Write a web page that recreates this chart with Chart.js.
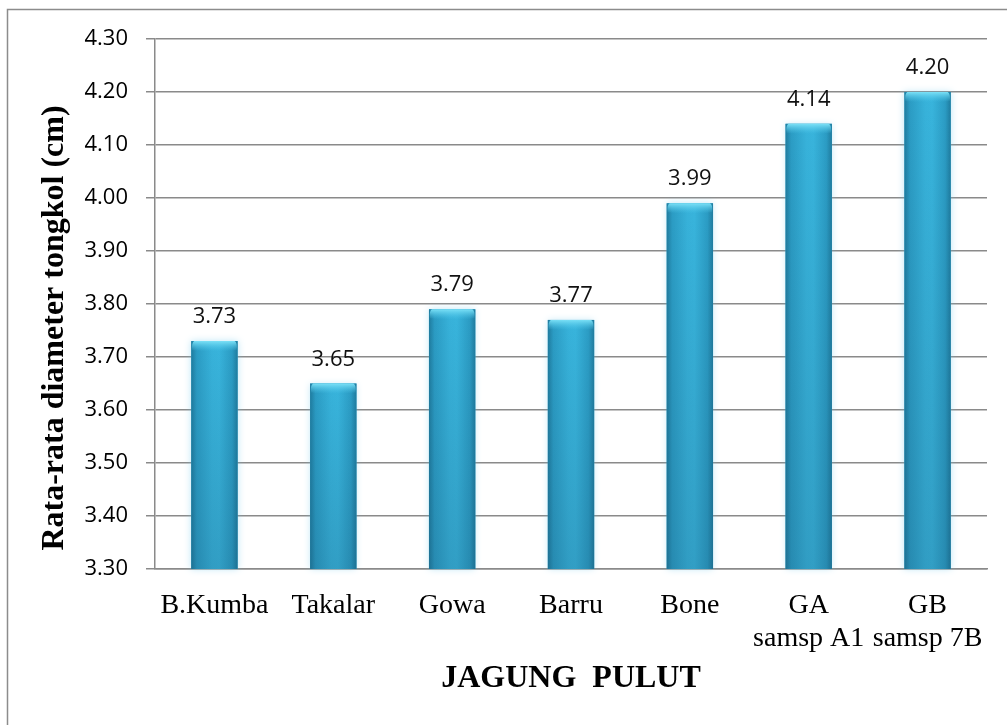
<!DOCTYPE html>
<html>
<head>
<meta charset="utf-8">
<script src="https://cdn.jsdelivr.net/npm/chart.js@4.4.1/dist/chart.umd.min.js"></script>
<style>
  body { margin: 0; background: #fff; }
  #wrap { width: 1007px; height: 725px; }
</style>
</head>
<body>
<div id="wrap"><canvas id="diameterChart" width="1007" height="725"></canvas></div>
<script>
const categories = ['B.Kumba', 'Takalar', 'Gowa', 'Barru', 'Bone', ['GA', 'samsp A1'], ['GB', 'samsp 7B']];
const diameters = [3.73, 3.65, 3.79, 3.77, 3.99, 4.14, 4.20];
const yTicks = [3.30, 3.40, 3.50, 3.60, 3.70, 3.80, 3.90, 4.00, 4.10, 4.20, 4.30];

const gridGray = '#8a8a8a';

// frame around the whole figure + white background
const framePlugin = {
  id: 'frame',
  beforeDraw(chart) {
    const ctx = chart.ctx;
    ctx.save();
    ctx.fillStyle = '#fff';
    ctx.fillRect(0, 0, chart.width, chart.height);
    ctx.strokeStyle = '#8c8c8c';
    ctx.lineWidth = 1.5;
    ctx.strokeRect(7.5, 9.5, chart.width + 20, chart.height + 20);
    ctx.restore();
  }
};

// shaded cylinder look on the bars + value labels
const barStylePlugin = {
  id: 'barStyle',
  afterDatasetsDraw(chart) {
    const ctx = chart.ctx;
    const area = chart.chartArea;
    const meta = chart.getDatasetMeta(0);
    meta.data.forEach((bar, i) => {
      const props = bar.getProps(['x', 'y', 'base', 'width'], true);
      const { x, y, width } = props;
      const base = Math.min(props.base, area.bottom);
      const left = x - width / 2;
      const h = base - y;

      ctx.save();
      ctx.shadowColor = 'rgba(110,200,235,0.45)';
      ctx.shadowBlur = 7;
      const g = ctx.createLinearGradient(left, 0, left + width, 0);
      g.addColorStop(0, '#1f7c9f');
      g.addColorStop(0.12, '#2b9cc4');
      g.addColorStop(0.45, '#37b2da');
      g.addColorStop(0.6, '#38b4dc');
      g.addColorStop(0.88, '#2b9cc4');
      g.addColorStop(1, '#1f7c9f');
      ctx.fillStyle = g;
      ctx.fillRect(left, y, width, h);
      ctx.restore();

      // darker towards the bottom
      ctx.save();
      const v = ctx.createLinearGradient(0, y, 0, base);
      v.addColorStop(0, 'rgba(20,60,90,0)');
      v.addColorStop(1, 'rgba(20,60,90,0.18)');
      ctx.fillStyle = v;
      ctx.fillRect(left, y, width, h);

      // light cap on top
      const c = ctx.createLinearGradient(0, y, 0, y + 10);
      c.addColorStop(0, '#7be0f6');
      c.addColorStop(1, 'rgba(80,200,235,0)');
      ctx.fillStyle = c;
      ctx.beginPath();
      ctx.moveTo(left + 3, y);
      ctx.lineTo(left + width - 3, y);
      ctx.quadraticCurveTo(left + width, y + 2, left + width - 1, y + 9);
      ctx.quadraticCurveTo(x, y + 12, left + 1, y + 9);
      ctx.quadraticCurveTo(left, y + 2, left + 3, y);
      ctx.fill();
      ctx.restore();

      ctx.save();
      ctx.fillStyle = '#111';
      ctx.font = '22px "Open Sans", sans-serif';
      ctx.textAlign = 'center';
      ctx.textBaseline = 'alphabetic';
      ctx.fillText(diameters[i].toFixed(2), x, y - 18);
      ctx.restore();
    });
  }
};

new Chart(document.getElementById('diameterChart'), {
  type: 'bar',
  data: {
    labels: categories,
    datasets: [{
      data: diameters,
      backgroundColor: '#2ea3cb',
      borderWidth: 0,
      categoryPercentage: 0.39,
      barPercentage: 1
    }]
  },
  options: {
    responsive: false,
    devicePixelRatio: 1,
    animation: false,
    layout: { padding: { left: 0, top: 39, right: 20, bottom: 0 } },
    plugins: {
      legend: { display: false },
      tooltip: { enabled: false }
    },
    scales: {
      x: {
        grid: { display: false, drawTicks: false },
        border: { display: true, color: gridGray, width: 1.5 },
        ticks: {
          color: '#000',
          font: { family: '"Liberation Serif", "Times New Roman", serif', size: 28, lineHeight: 1.18 },
          padding: 20,
          autoSkip: false,
          maxRotation: 0
        },
        title: {
          display: true,
          text: 'JAGUNG  PULUT',
          color: '#000',
          font: { family: '"Liberation Serif", "Times New Roman", serif', size: 32, weight: 'bold' },
          padding: { top: 0, bottom: 27 }
        },
        afterFit: s => { s.height = 156; }
      },
      y: {
        min: 3.3,
        max: 4.3,
        afterBuildTicks: s => { s.ticks = yTicks.map(v => ({ value: v })); },
        grid: { color: gridGray, lineWidth: 1.5, tickLength: 9, drawTicks: true },
        border: { display: true, color: gridGray, width: 1.5 },
        ticks: {
          color: '#000',
          font: { family: '"Open Sans", sans-serif', size: 22 },
          padding: 18,
          callback: v => Number(v).toFixed(2)
        },
        title: {
          display: true,
          text: 'Rata-rata diameter tongkol (cm)      ',
          color: '#000',
          font: { family: '"Liberation Serif", "Times New Roman", serif', size: 32, weight: 'bold' },
          padding: { top: 36, bottom: 0 }
        },
        afterFit: s => { s.width = 155; }
      }
    }
  },
  plugins: [framePlugin, barStylePlugin]
});
</script>
</body>
</html>
